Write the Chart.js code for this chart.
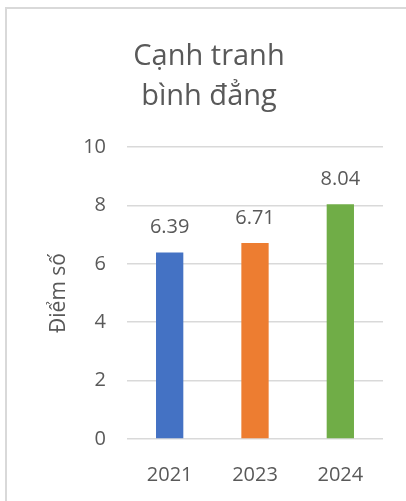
<!DOCTYPE html>
<html>
<head>
<meta charset="utf-8">
<script src="https://cdn.jsdelivr.net/npm/chart.js@4/dist/chart.umd.min.js"></script>
<style>
  html, body { margin: 0; padding: 0; background: #ffffff; overflow: hidden; }
  #wrap { position: relative; width: 406px; height: 501px; overflow: hidden; }
  #frame { position: absolute; left: 5px; top: 7px; width: 440px; height: 540px;
           border: 2px solid #d9d9d9; box-sizing: border-box; pointer-events: none; }
  canvas { position: absolute; left: 0; top: 0; }
</style>
</head>
<body>
<div id="wrap">
  <div id="frame"></div>
  <canvas id="chart" width="406" height="501"></canvas>
</div>
<script>
// Chart content
const titleLines = ['Cạnh tranh', 'bình đẳng'];
const yAxisTitle = 'Điểm số';
const categories = ['2021', '2023', '2024'];
const scores = [6.39, 6.71, 8.04];
const barColors = ['#4472C4', '#ED7D31', '#70AD47'];
const yMin = 0, yMax = 10, yStep = 2;

const FONT = "'Open Sans', 'Noto Sans', sans-serif";
const TEXT = '#595959';

// Two-line heading centred above the plot
const headingPlugin = {
  id: 'heading',
  afterDraw(chart) {
    const ctx = chart.ctx;
    ctx.save();
    ctx.fillStyle = TEXT;
    ctx.font = `29px ${FONT}`;
    ctx.textAlign = 'center';
    ctx.textBaseline = 'alphabetic';
    titleLines.forEach((line, i) => ctx.fillText(line, 209, 65 + i * 40));
    ctx.restore();
  }
};

// Value printed above each bar
const valueLabels = {
  id: 'valueLabels',
  afterDatasetsDraw(chart) {
    const ctx = chart.ctx;
    ctx.save();
    ctx.fillStyle = TEXT;
    ctx.font = `20px ${FONT}`;
    ctx.textAlign = 'center';
    ctx.textBaseline = 'middle';
    chart.getDatasetMeta(0).data.forEach((bar, i) => {
      ctx.fillText(String(scores[i]), bar.x, bar.y - 25);
    });
    ctx.restore();
  }
};

new Chart(document.getElementById('chart'), {
  type: 'bar',
  data: {
    labels: categories,
    datasets: [{
      data: scores,
      backgroundColor: barColors,
      borderWidth: 0,
      barPercentage: 0.32,
      categoryPercentage: 1.0
    }]
  },
  options: {
    responsive: false,
    animation: false,
    devicePixelRatio: 1,
    layout: { padding: { top: 147, left: 0, right: 23, bottom: 0 } },
    plugins: {
      legend: { display: false },
      title: { display: false },
      tooltip: { enabled: false }
    },
    scales: {
      x: {
        grid: { display: false },
        border: { display: false },
        ticks: { color: TEXT, font: { family: FONT, size: 20 }, padding: 16 },
        afterFit(scale) { scale.height = 62; }
      },
      y: {
        min: yMin,
        max: yMax,
        ticks: { stepSize: yStep, color: TEXT, font: { family: FONT, size: 20 }, padding: 21 },
        grid: { color: '#d9d9d9', lineWidth: 1.5, drawTicks: false },
        border: { display: false },
        title: {
          display: true,
          text: yAxisTitle,
          color: TEXT,
          font: { family: FONT, size: 21 },
          padding: { top: 46, bottom: 0 }
        },
        afterFit(scale) { scale.width = 127; }
      }
    }
  },
  plugins: [headingPlugin, valueLabels]
});
</script>
</body>
</html>
